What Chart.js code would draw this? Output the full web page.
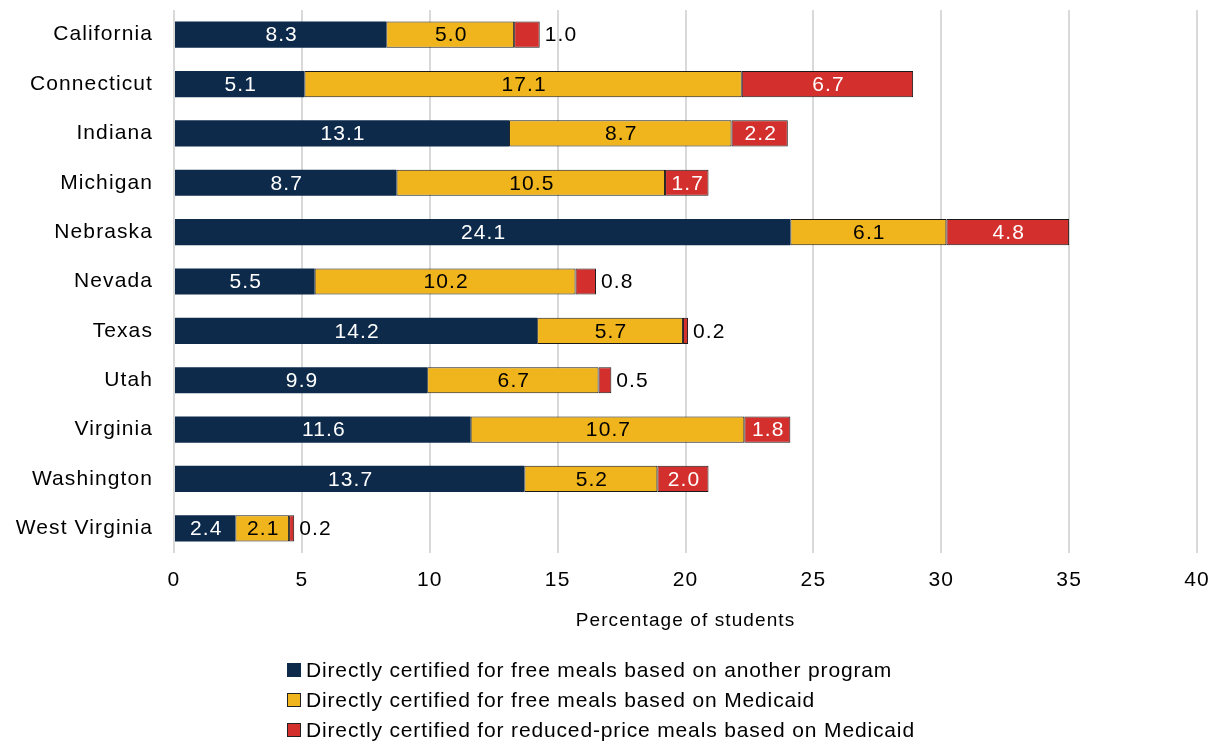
<!DOCTYPE html>
<html>
<head>
<meta charset="utf-8">
<script src="https://cdn.jsdelivr.net/npm/chart.js@4.4.1/dist/chart.umd.min.js"></script>
<style>
  body { margin: 0; background: #fff; }
  #wrap { position: relative; width: 1219px; height: 744px; }
  #legend {
    position: absolute; left: 287px; top: 655px;
    font-family: "Liberation Sans", Arial, sans-serif; font-size: 21px;
    letter-spacing: 0.85px; color: #000;
  }
  .item { height: 30px; line-height: 30px; display: flex; align-items: center; }
  .box { width: 14px; height: 14px; box-sizing: border-box; margin-right: 5px; }
</style>
</head>
<body>
<div id="wrap">
  <canvas id="chart" width="1219" height="744"></canvas>
  <div id="legend"></div>
</div>
<script>
// States shown on the vertical axis
const states = ['California', 'Connecticut', 'Indiana', 'Michigan', 'Nebraska', 'Nevada',
                'Texas', 'Utah', 'Virginia', 'Washington', 'West Virginia'];

// Percentage of students, one array per series
const otherProgram = [8.3, 5.1, 13.1, 8.7, 24.1, 5.5, 14.2, 9.9, 11.6, 13.7, 2.4];
const medicaidFree = [5.0, 17.1, 8.7, 10.5, 6.1, 10.2, 5.7, 6.7, 10.7, 5.2, 2.1];
const medicaidReduced = [1.0, 6.7, 2.2, 1.7, 4.8, 0.8, 0.2, 0.5, 1.8, 2.0, 0.2];

const seriesNames = [
    'Directly certified for free meals based on another program',
    'Directly certified for free meals based on Medicaid',
    'Directly certified for reduced-price meals based on Medicaid'
];

const xTicks = [0, 5, 10, 15, 20, 25, 30, 35, 40];

const FONT = '"Liberation Sans", Arial, sans-serif';
const SPACING = '1.1px';
const colors = ['#0d2a4a', '#f0b41c', '#d32f2c'];
const labelColors = ['#ffffff', '#000000', '#ffffff'];

// Spread letters a bit, the reference text is wide
const spacingPlugin = {
    id: 'spacing',
    beforeDraw(chart) { chart.ctx.letterSpacing = SPACING; }
};

// Value labels: inside the segment when it fits, else to the right of the bar
const valueLabels = {
    id: 'valueLabels',
    afterDatasetsDraw(chart) {
        const ctx = chart.ctx;
        ctx.save();
        ctx.letterSpacing = SPACING;
        ctx.font = '21px ' + FONT;
        ctx.textBaseline = 'middle';
        chart.data.datasets.forEach((ds, di) => {
            const meta = chart.getDatasetMeta(di);
            meta.data.forEach((bar, i) => {
                const txt = ds.data[i].toFixed(1);
                const w = ctx.measureText(txt).width;
                const left = Math.min(bar.x, bar.base);
                const right = Math.max(bar.x, bar.base);
                if (w + 4 < right - left) {
                    ctx.fillStyle = labelColors[di];
                    ctx.textAlign = 'center';
                    ctx.fillText(txt, (left + right) / 2 + 1, bar.y + 1);
                } else {
                    ctx.fillStyle = '#000000';
                    ctx.textAlign = 'left';
                    ctx.fillText(txt, right + 5, bar.y + 1);
                }
            });
        });
        ctx.restore();
    }
};

const allSeries = [otherProgram, medicaidFree, medicaidReduced];

new Chart(document.getElementById('chart'), {
    type: 'bar',
    data: {
        labels: states,
        datasets: allSeries.map((vals, k) => ({
            label: seriesNames[k],
            data: vals,
            backgroundColor: colors[k],
            borderColor: k === 0 ? colors[0] : '#1a1a1a',
            borderWidth: k === 0 ? 0 : 1,
            borderSkipped: false,
            barPercentage: 0.53,
            categoryPercentage: 1
        }))
    },
    options: {
        indexAxis: 'y',
        responsive: false,
        animation: false,
        layout: { padding: { left: 0, right: 22, top: 10, bottom: 108 } },
        plugins: {
            legend: { display: false },
            tooltip: { enabled: false }
        },
        scales: {
            x: {
                stacked: true,
                min: 0,
                max: 40,
                afterBuildTicks: scale => { scale.ticks = xTicks.map(v => ({ value: v })); },
                afterFit: scale => {
                    scale.height = 83;
                    scale.paddingLeft = 0;
                    scale.paddingRight = 0;
                },
                grid: { color: '#d9d9d9', lineWidth: 2, drawTicks: false },
                border: { display: false },
                ticks: { color: '#000000', font: { family: FONT, size: 21 }, padding: 15 },
                title: {
                    display: true,
                    text: 'Percentage of students',
                    color: '#000000',
                    font: { family: FONT, size: 19 }
                }
            },
            y: {
                stacked: true,
                afterFit: scale => {
                    scale.width = 174;
                    scale.paddingTop = 0;
                    scale.paddingBottom = 0;
                },
                grid: { display: false, drawTicks: false },
                border: { display: false },
                ticks: { color: '#000000', font: { family: FONT, size: 21 }, padding: 21 }
            }
        }
    },
    plugins: [spacingPlugin, valueLabels]
});

// Legend, stacked on the left like the reference
const legend = document.getElementById('legend');
seriesNames.forEach((name, k) => {
    const item = document.createElement('div');
    item.className = 'item';
    const border = k === 0 ? colors[0] : '#222';
    item.innerHTML = `<span class="box" style="background:${colors[k]};border:1px solid ${border}"></span><span>${name}</span>`;
    legend.appendChild(item);
});
</script>
</body>
</html>
